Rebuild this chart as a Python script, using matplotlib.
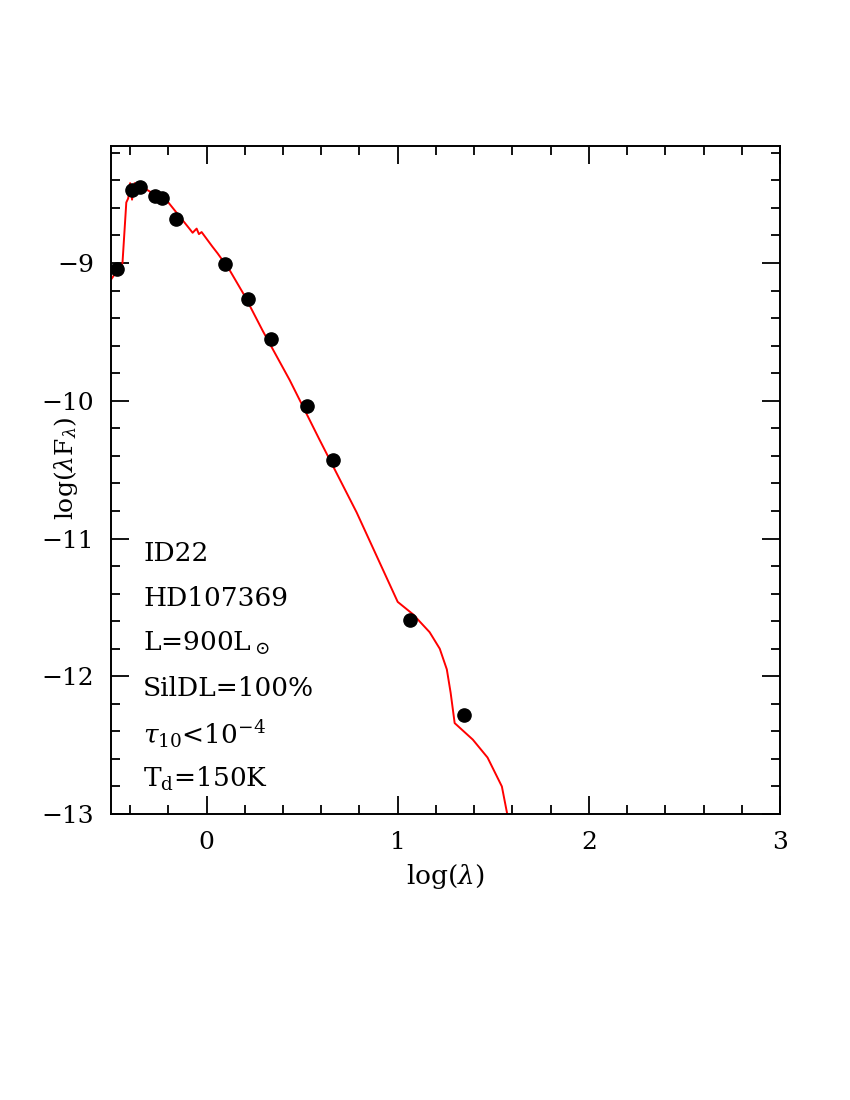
#!/usr/bin/env python3
"""SED plot for ID22 / HD107369: photometry points and model curve."""

import matplotlib
matplotlib.use("Agg")
import matplotlib.pyplot as plt
from matplotlib.ticker import MultipleLocator

plt.rcParams["font.family"] = "DejaVu Serif"
plt.rcParams["mathtext.fontset"] = "dejavuserif"

# photometry (log lambda [um], log lambda F_lambda)
obs_logl = [-0.47, -0.39, -0.35, -0.27, -0.235, -0.16, 0.094, 0.215, 0.335,
            0.524, 0.66, 1.063, 1.346]
obs_logf = [-9.04, -8.47, -8.45, -8.51, -8.53, -8.68, -9.01, -9.26, -9.55,
            -10.04, -10.43, -11.59, -12.28]

# model curve
mod_logl = [-0.50, -0.44, -0.42, -0.41, -0.40, -0.39, -0.377, -0.366, -0.335,
            -0.26, -0.20, -0.09, -0.073, -0.052, -0.04, -0.026, 0.03, 0.058,
            0.12, 0.20, 0.293, 0.435, 0.59, 0.785, 1.0, 1.08, 1.167, 1.22,
            1.257, 1.277, 1.298, 1.393, 1.47, 1.545, 1.58]
mod_logf = [-9.12, -9.0, -8.56, -8.53, -8.42, -8.54, -8.42, -8.44, -8.45,
            -8.51, -8.56, -8.75, -8.78, -8.75, -8.79, -8.775, -8.88, -8.93,
            -9.05, -9.24, -9.49, -9.85, -10.28, -10.81, -11.46, -11.55, -11.68,
            -11.8, -11.95, -12.12, -12.34, -12.46, -12.59, -12.80, -13.05]

info_lines = ["ID22", "HD107369", r"L=900L$_\odot$", "SilDL=100%",
              r"$\tau_{10}$<10$^{-4}$", r"T$_{\rm d}$=150K"]

fig = plt.figure(figsize=(8.5, 11), dpi=100)
ax = fig.add_axes([0.1306, 0.26, 0.787, 0.6073])

ax.plot(mod_logl, mod_logf, color="red", lw=1.4, zorder=2)
ax.plot(obs_logl, obs_logf, "o", color="black", ms=9.5, zorder=3)

ax.set_xlim(-0.5, 3)
ax.set_ylim(-13, -8.15)
ax.xaxis.set_major_locator(MultipleLocator(1))
ax.xaxis.set_minor_locator(MultipleLocator(0.2))
ax.yaxis.set_major_locator(MultipleLocator(1))
ax.yaxis.set_minor_locator(MultipleLocator(0.2))
ax.tick_params(which="both", direction="in", top=True, right=True,
               width=1.3, labelsize=18)
ax.tick_params(which="major", length=13, pad=12)
ax.tick_params(which="minor", length=6.5)
for s in ax.spines.values():
    s.set_linewidth(1.4)

ax.set_xlabel(r"log($\lambda$)", fontsize=19, labelpad=6)
# y label sits close to the tick labels, as in the original
ax.text(-0.067, 0.518, r"log($\lambda$F$_\lambda$)", transform=ax.transAxes,
        rotation=90, fontsize=18, ha="center", va="center")

for i, t in enumerate(info_lines):
    ax.text(0.048, 0.39 - i * 0.0676, t, transform=ax.transAxes,
            fontsize=19, va="center", ha="left")

fig.savefig("out.png", dpi=100)
